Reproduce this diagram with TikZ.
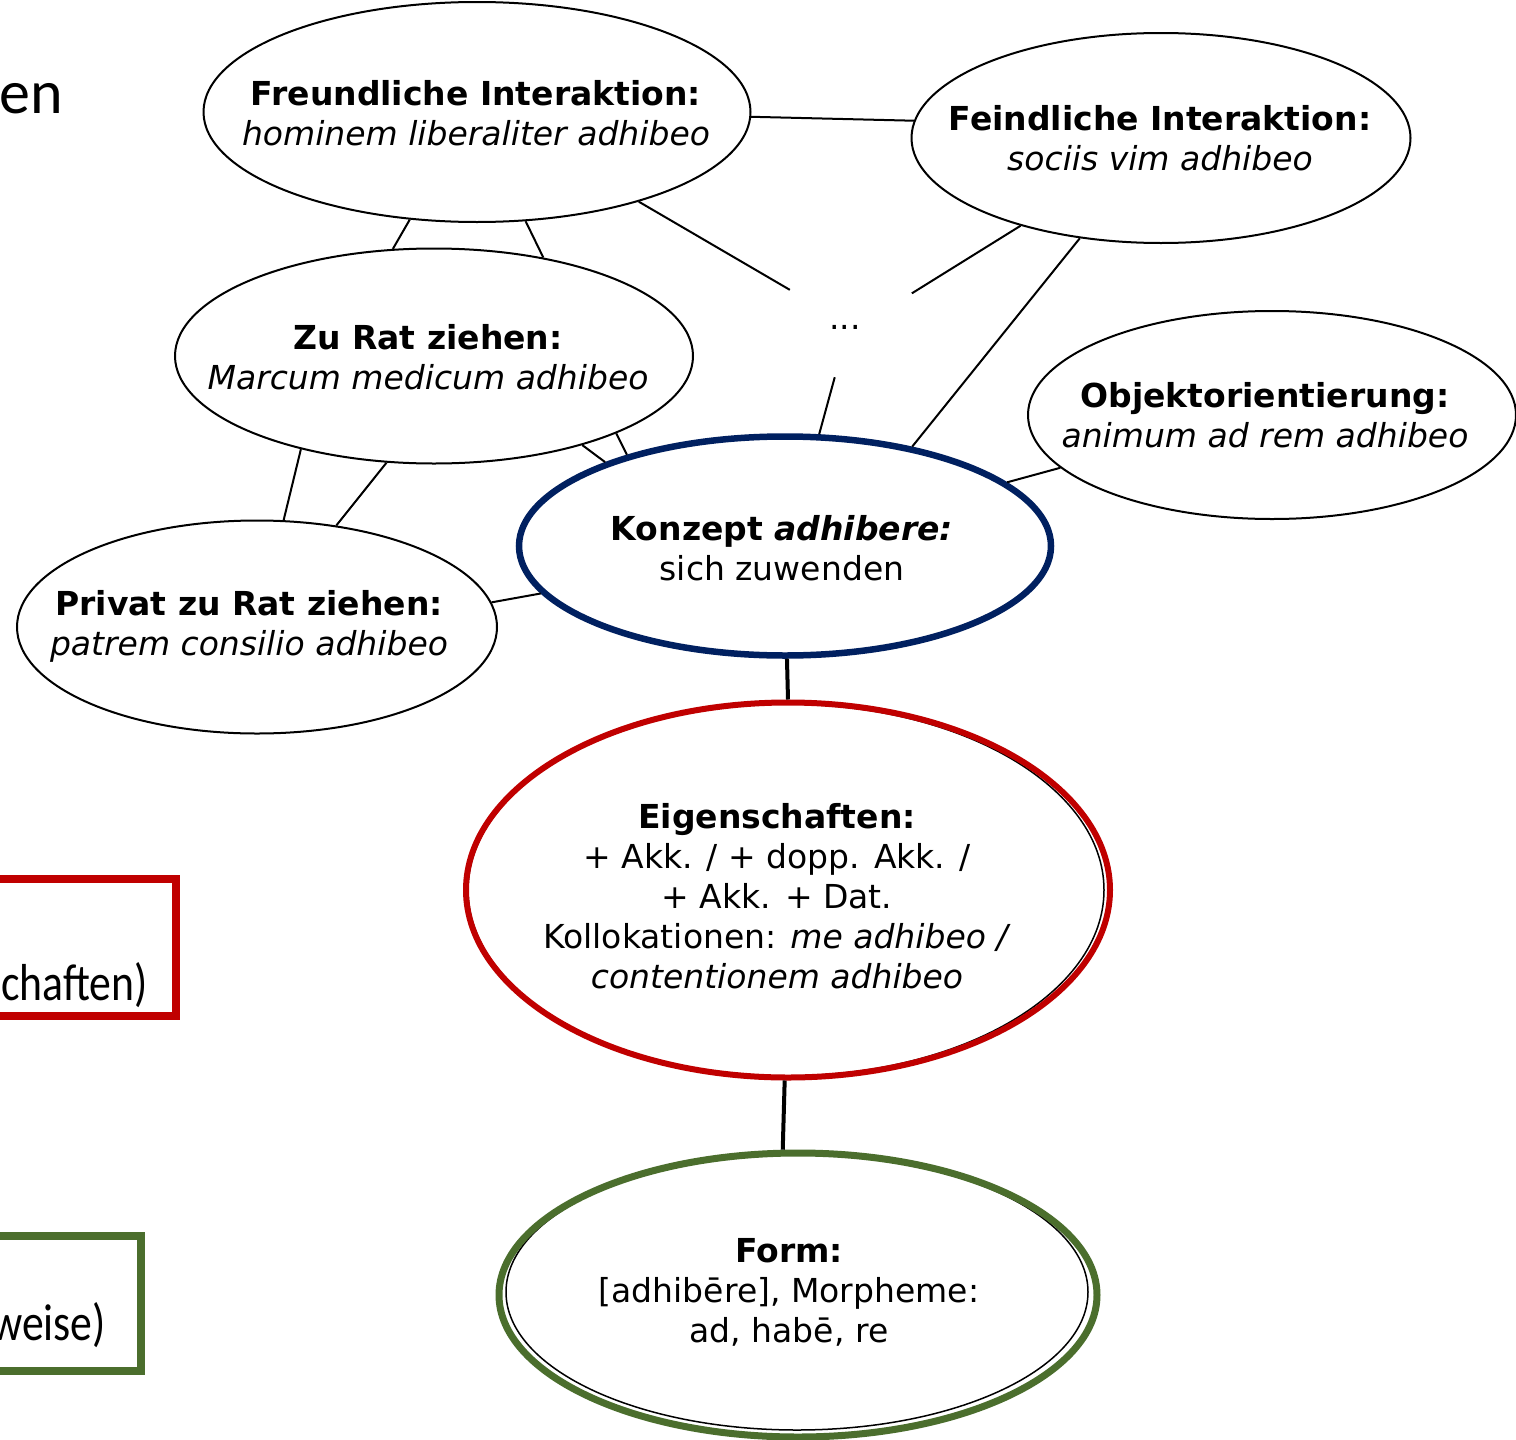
\documentclass[tikz,border=0pt]{standalone}
\usepackage{fontspec}
\setmainfont{DejaVu Sans}
\newfontfamily\calfont{Carlito}
\usetikzlibrary{shapes.geometric}
\definecolor{navyc}{RGB}{0,32,96}
\definecolor{redc}{RGB}{192,0,0}
\definecolor{greenc}{RGB}{75,110,45}
\tikzset{
  ell/.style={ellipse, draw=black, line width=2pt, fill=white, inner sep=0pt},
  lbl/.style={align=center, inner sep=0pt, font=\fontsize{33}{40}\selectfont},
  conn/.style={line width=2pt, draw=black},
  bigconn/.style={line width=4pt, draw=black},
  sidetxt/.style={inner sep=0pt, font=\calfont\fontsize{62}{70}\selectfont},
  boxtxt/.style={inner sep=0pt, font=\calfont\fontsize{52}{60}\selectfont},
}
\begin{document}
\begin{tikzpicture}[x=1pt,y=-1pt]
\clip (0,0) rectangle (1516,1440);
\fill[white] (0,0) rectangle (1516,1440);

% left side fragments
\node[sidetxt, anchor=base east] (ttl) at (63,113) {en};
\draw[redc, line width=8pt] (-20,879) -- (176,879) -- (176,1016) -- (-20,1016);
\node[boxtxt, anchor=base east] (rtxt) at (148,1000) {\scalebox{0.84}[1]{chaften)}};
\draw[greenc, line width=8pt] (-20,1236) -- (141,1236) -- (141,1371) -- (-20,1371);
\node[boxtxt, anchor=base east] (gtxt) at (106,1340) {\scalebox{0.84}[1]{weise)}};

% ellipses
\node[ell, minimum width=547pt, minimum height=220pt] (fr) at (477,112) {};
\node[ell, minimum width=499pt, minimum height=210pt] (fe) at (1161,138) {};
\node[ell, minimum width=518pt, minimum height=215pt] (zr) at (434,356) {};
\node[ell, minimum width=488pt, minimum height=208pt] (ob) at (1272,415) {};
\node[ell, minimum width=480pt, minimum height=213pt] (pr) at (257,627) {};
\node[ellipse, inner sep=0pt, minimum width=152pt, minimum height=108pt] (dots) at (849,324) {};
\node[ell, draw=navyc, line width=6.5pt, minimum width=532pt, minimum height=219pt] (ko) at (785,546) {};
\node[ell, line width=1.5pt, minimum width=636pt, minimum height=372pt] (eigb) at (786,890) {};
\node[ellipse, draw=redc, line width=6pt, inner sep=0pt, minimum width=644pt, minimum height=375pt] (eig) at (788,890) {};
\node[ell, line width=1.5pt, minimum width=582pt, minimum height=276pt] (fob) at (797,1292) {};
\node[ellipse, draw=greenc, line width=7pt, inner sep=0pt, minimum width=598pt, minimum height=284pt] (fo) at (798,1295) {};

% texts
\node[lbl] (frT) at (476,113) {\textbf{Freundliche Interaktion:}\\\textit{hominem liberaliter adhibeo}};
\node[lbl] (feT) at (1160,138) {\textbf{Feindliche Interaktion:}\\\textit{sociis vim adhibeo}};
\node[lbl] (zrT) at (428,357) {\textbf{Zu Rat ziehen:}\\\textit{Marcum medicum adhibeo}};
\node[lbl] (obT) at (1265,415) {\textbf{Objektorientierung:}\\\textit{animum ad rem adhibeo}};
\node[lbl] (prT) at (249,626) {\textbf{Privat zu Rat ziehen:}\\\textit{patrem consilio adhibeo}};
\node[lbl, anchor=base] (dotsT) at (845,329) {...};
\node[lbl] (koT) at (782,548) {\textbf{Konzept \textit{adhibere:}}\\sich zuwenden};
\node[lbl] (eigT) at (777,896) {\textbf{Eigenschaften:}\\+ Akk. / + dopp. Akk. /\\+ Akk. + Dat.\\Kollokationen: \textit{me adhibeo /}\\\textit{contentionem adhibeo}};
\node[lbl] (foT) at (789,1292) {\textbf{Form:}\\{}[adhibēre], Morpheme:\\ad, habē, re};

% connectors
\draw[conn] (fr.-1) -- (fe.176);
\draw[conn] (fr.-122) -- (zr.111);
\draw[conn] (fr.-66) -- (zr.42.5);
\draw[conn] (fr.-29.6) -- (dots.150.9);
\draw[conn] (fe.-148.3) -- (dots.26.2);
\draw[conn] (fe.-129.4) -- (ko.38.4);
\draw[conn] (dots.-105.1) -- (ko.73.2);
\draw[conn] (zr.-31.9) -- (ko.155.5);
\draw[conn] (zr.-23.6) -- (ko.150.7);
\draw[conn] (zr.-145.2) -- (pr.76.1);
\draw[conn] (zr.-114.6) -- (pr.52.4);
\draw[conn] (pr.6.7) -- (ko.-169.1);
\draw[conn] (ob.-166.1) -- (ko.16.5);
\draw[bigconn] (ko.-89.5) -- (eig.90.6);
\draw[bigconn] (eig.-91.5) -- (fo.96.4);
\end{tikzpicture}
\end{document}
